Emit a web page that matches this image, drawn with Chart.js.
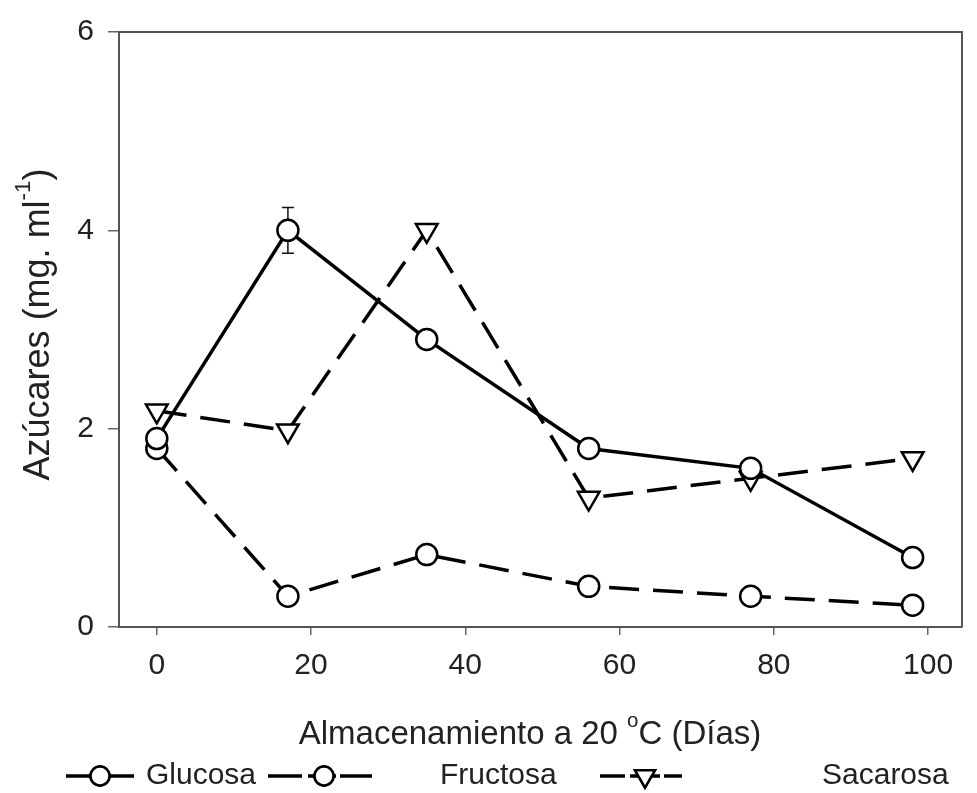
<!DOCTYPE html>
<html>
<head>
<meta charset="utf-8">
<script src="https://cdn.jsdelivr.net/npm/chart.js"></script>
<style>
body{margin:0;background:#fff;}
</style>
</head>
<body>
<canvas id="myChart" width="977" height="793"></canvas>
<script>
// datos
let dias = [0, 17, 35, 56, 77, 98];
let glucosa = [1.9, 4.0, 2.9, 1.8, 1.6, 0.7];
let glucosaErr = [0, 0.23, 0, 0, 0, 0];
let fructosa = [1.8, 0.31, 0.73, 0.41, 0.31, 0.22];
let sacarosa = [2.18, 1.98, 4.0, 1.3, 1.5, 1.7];
let nombres = ['Glucosa', 'Fructosa', 'Sacarosa'];
let xTicks = [0, 20, 40, 60, 80, 100];
let yTicks = [0, 2, 4, 6];

Chart.defaults.font.family = '"Liberation Sans", Arial, sans-serif';

function puntos(vals){
    return dias.map((d, i) => ({x: d, y: vals[i]}));
}

// texto con superindice, centrado en x
function textoSup(ctx, partes, x, y, size){
    let total = 0;
    partes.forEach(p => {
        ctx.font = (p[1] ? size * 0.62 : size) + 'px "Liberation Sans", Arial';
        total += ctx.measureText(p[0]).width;
    });
    let cx = x - total / 2;
    partes.forEach(p => {
        ctx.font = (p[1] ? size * 0.62 : size) + 'px "Liberation Sans", Arial';
        ctx.fillText(p[0], cx, p[1] ? y - size * 0.42 : y);
        cx += ctx.measureText(p[0]).width;
    });
}

function linea(ctx, a, b, y){
    ctx.beginPath();
    ctx.moveTo(a, y); ctx.lineTo(b, y);
    ctx.stroke();
}

let extras = {
    id: 'extras',
    beforeDatasetsDraw(chart){
        let ctx = chart.ctx;
        let xs = chart.scales.x, ys = chart.scales.y;
        ctx.save();
        ctx.strokeStyle = '#111';
        ctx.lineWidth = 1.5;
        glucosaErr.forEach((e, i) => {
            if(!e) return;
            let px = xs.getPixelForValue(dias[i]);
            let top = ys.getPixelForValue(glucosa[i] + e);
            let bot = ys.getPixelForValue(glucosa[i] - e);
            ctx.beginPath();
            ctx.moveTo(px, top); ctx.lineTo(px, bot);
            ctx.moveTo(px - 6, top); ctx.lineTo(px + 6, top);
            ctx.moveTo(px - 6, bot); ctx.lineTo(px + 6, bot);
            ctx.stroke();
        });
        ctx.restore();
    },
    afterDraw(chart){
        let ctx = chart.ctx;
        let a = chart.chartArea;
        ctx.save();
        // marco superior y derecho
        ctx.strokeStyle = '#555';
        ctx.lineWidth = 2;
        ctx.beginPath();
        ctx.moveTo(a.left, a.top); ctx.lineTo(a.right, a.top); ctx.lineTo(a.right, a.bottom);
        ctx.stroke();

        ctx.fillStyle = '#222';
        ctx.textBaseline = 'middle';
        ctx.textAlign = 'left';
        // titulo eje x
        textoSup(ctx, [['Almacenamiento a 20 ', false], ['o', true], ['C (Días)', false]], 530, 735, 33);
        // titulo eje y
        ctx.save();
        ctx.translate(39, (a.top + a.bottom) / 2 - 5);
        ctx.rotate(-Math.PI / 2);
        textoSup(ctx, [['Azúcares (mg. ml', false], ['-1', true], [')', false]], 0, 0, 36);
        ctx.restore();

        // leyenda: tramos de linea + simbolo + texto
        let items = [
            {tramos: [[66, 134]], xm: 100, xt: 146},
            {tramos: [[268, 302], [308, 336], [340, 372]], xm: 324, xt: 440},
            {tramos: [[600, 625], [630, 660], [664, 682]], xm: 645, xt: 822}
        ];
        let ly = 776;
        items.forEach((it, i) => {
            let ds = chart.data.datasets[i];
            ctx.strokeStyle = '#000';
            ctx.lineWidth = 3.5;
            it.tramos.forEach(t => linea(ctx, t[0], t[1], ly));
            ctx.lineWidth = 2.5;
            ctx.fillStyle = '#fff';
            Chart.helpers.drawPoint(ctx, {pointStyle: ds.pointStyle, rotation: ds.pointRotation || 0, radius: ds.pointRadius - 1, borderWidth: 2.5}, it.xm, ly);
            ctx.fill();
            ctx.stroke();
            ctx.fillStyle = '#222';
            ctx.font = '30px "Liberation Sans", Arial';
            ctx.fillText(nombres[i], it.xt, ly);
        });
        ctx.restore();
    }
};

let myChart = document.getElementById('myChart').getContext('2d');

let azucares = new Chart(myChart, {
    type: 'scatter',
    data: {
        datasets: [{
            label: nombres[0],
            data: puntos(glucosa),
            showLine: true,
            borderColor: '#000',
            borderWidth: 3.5,
            pointStyle: 'circle',
            pointRadius: 10.5,
            pointBorderWidth: 2.5,
            pointBackgroundColor: '#fff',
            pointBorderColor: '#000'
        }, {
            label: nombres[1],
            data: puntos(fructosa),
            showLine: true,
            borderColor: '#000',
            borderWidth: 3.5,
            borderDash: [30, 14],
            pointStyle: 'circle',
            pointRadius: 10.5,
            pointBorderWidth: 2.5,
            pointBackgroundColor: '#fff',
            pointBorderColor: '#000'
        }, {
            label: nombres[2],
            data: puntos(sacarosa),
            showLine: true,
            borderColor: '#000',
            borderWidth: 3.5,
            borderDash: [30, 14],
            pointStyle: 'triangle',
            pointRotation: 180,
            pointRadius: 12.5,
            pointBorderWidth: 2.5,
            pointBackgroundColor: '#fff',
            pointBorderColor: '#000'
        }]
    },
    options: {
        responsive: false,
        animation: false,
        layout: {padding: {top: 30, right: 11, left: 0, bottom: 0}},
        plugins: {legend: {display: false}, tooltip: {enabled: false}},
        scales: {
            x: {
                type: 'linear',
                min: -4.9,
                max: 104.4,
                afterBuildTicks: s => { s.ticks = xTicks.map(v => ({value: v})); },
                afterFit: s => { s.height = 166; },
                grid: {drawOnChartArea: false, drawTicks: true, tickLength: 8, color: '#666', lineWidth: 1.5},
                border: {display: true, color: '#555', width: 2},
                ticks: {font: {size: 30}, color: '#222', padding: 13}
            },
            y: {
                min: 0,
                max: 6,
                afterBuildTicks: s => { s.ticks = yTicks.map(v => ({value: v})); },
                afterFit: s => { s.width = 119; },
                grid: {drawOnChartArea: false, drawTicks: true, tickLength: 11, color: '#666', lineWidth: 1.5},
                border: {display: true, color: '#555', width: 2},
                ticks: {font: {size: 30}, color: '#222', padding: 14}
            }
        }
    },
    plugins: [extras]
});
</script>
</body>
</html>
